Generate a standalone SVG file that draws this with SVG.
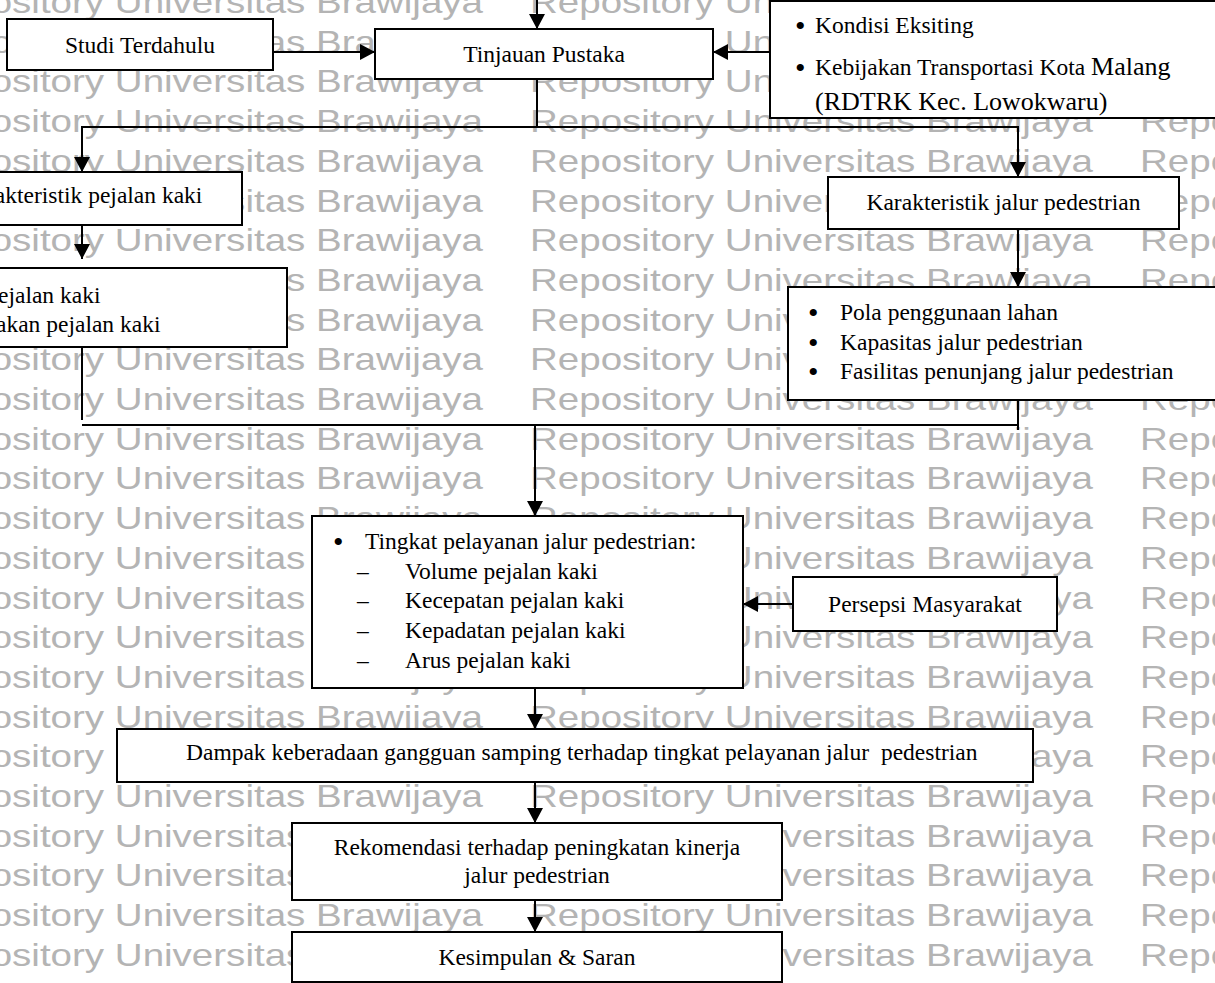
<svg xmlns="http://www.w3.org/2000/svg" xmlns:xlink="http://www.w3.org/1999/xlink" width="1215" height="983" viewBox="0 0 1215 983">
  <style>
    .wm { font-family: "Liberation Sans", Arial, sans-serif; font-size: 32px; fill: #b4b4b4; }
    .box { fill: #ffffff; stroke: #000000; stroke-width: 2; }
    .t { font-family: "Liberation Serif", "Times New Roman", serif; font-size: 23.5px; fill: #000000; }
    .c { text-anchor: middle; }
    .big { font-size: 26px; }
    .bul { font-family: "Liberation Serif", "Times New Roman", serif; font-size: 30px; fill: #000000; }
    .ln { fill: none; stroke: #000000; stroke-width: 2; }
    .arr { marker-end: url(#head); }
  </style>
  <defs>
    <marker id="head" markerUnits="userSpaceOnUse" markerWidth="16" markerHeight="16" refX="15" refY="8" orient="auto">
      <path d="M0,0 L15,8 L0,16 z" fill="#000000"/>
    </marker>
    <text id="wm" class="wm" textLength="563" lengthAdjust="spacingAndGlyphs">Repository Universitas Brawijaya</text>
    <g id="wmrow">
      <use href="#wm" xlink:href="#wm" x="-80"/>
      <use href="#wm" xlink:href="#wm" x="530"/>
      <use href="#wm" xlink:href="#wm" x="1140"/>
    </g>
  </defs>

  <rect width="1215" height="983" fill="#ffffff"/>

  <!-- background watermark rows -->
  <g id="watermark">
    <use href="#wmrow" xlink:href="#wmrow" y="13"/>
    <use href="#wmrow" xlink:href="#wmrow" y="52.7"/>
    <use href="#wmrow" xlink:href="#wmrow" y="92.4"/>
    <use href="#wmrow" xlink:href="#wmrow" y="132.1"/>
    <use href="#wmrow" xlink:href="#wmrow" y="171.8"/>
    <use href="#wmrow" xlink:href="#wmrow" y="211.5"/>
    <use href="#wmrow" xlink:href="#wmrow" y="251.2"/>
    <use href="#wmrow" xlink:href="#wmrow" y="290.9"/>
    <use href="#wmrow" xlink:href="#wmrow" y="330.6"/>
    <use href="#wmrow" xlink:href="#wmrow" y="370.3"/>
    <use href="#wmrow" xlink:href="#wmrow" y="410"/>
    <use href="#wmrow" xlink:href="#wmrow" y="449.7"/>
    <use href="#wmrow" xlink:href="#wmrow" y="489.4"/>
    <use href="#wmrow" xlink:href="#wmrow" y="529.1"/>
    <use href="#wmrow" xlink:href="#wmrow" y="568.8"/>
    <use href="#wmrow" xlink:href="#wmrow" y="608.5"/>
    <use href="#wmrow" xlink:href="#wmrow" y="648.2"/>
    <use href="#wmrow" xlink:href="#wmrow" y="687.9"/>
    <use href="#wmrow" xlink:href="#wmrow" y="727.6"/>
    <use href="#wmrow" xlink:href="#wmrow" y="767.3"/>
    <use href="#wmrow" xlink:href="#wmrow" y="807"/>
    <use href="#wmrow" xlink:href="#wmrow" y="846.7"/>
    <use href="#wmrow" xlink:href="#wmrow" y="886.4"/>
    <use href="#wmrow" xlink:href="#wmrow" y="926.1"/>
    <use href="#wmrow" xlink:href="#wmrow" y="965.8"/>
  </g>

  <!-- connectors -->
  <g id="connectors">
    <line class="ln arr" x1="537" y1="0" x2="537" y2="29"/>
    <line class="ln arr" x1="273" y1="52" x2="375" y2="52"/>
    <line class="ln arr" x1="770" y1="52" x2="713" y2="52"/>
    <line class="ln" x1="537" y1="79" x2="537" y2="127"/>
    <line class="ln" x1="81" y1="127" x2="1019" y2="127"/>
    <line class="ln arr" x1="82" y1="126" x2="82" y2="172"/>
    <line class="ln arr" x1="1018" y1="126" x2="1018" y2="177"/>
    <line class="ln arr" x1="82" y1="225" x2="82" y2="259"/>
    <line class="ln arr" x1="1018" y1="229" x2="1018" y2="287"/>
    <line class="ln" x1="82" y1="347" x2="82" y2="420"/>
    <line class="ln" x1="1018" y1="400" x2="1018" y2="430"/>
    <line class="ln" x1="82" y1="425" x2="1018" y2="425"/>
    <line class="ln arr" x1="535" y1="424" x2="535" y2="516"/>
    <line class="ln arr" x1="793" y1="604" x2="743" y2="604"/>
    <line class="ln arr" x1="535" y1="688" x2="535" y2="729"/>
    <line class="ln arr" x1="535" y1="782" x2="535" y2="823"/>
    <line class="ln arr" x1="535" y1="900" x2="535" y2="932"/>
  </g>

  <g id="studi-terdahulu">
    <rect class="box" x="7" y="19" width="266" height="51"/>
    <text class="t c" x="140" y="53">Studi Terdahulu</text>
  </g>

  <g id="tinjauan-pustaka">
    <rect class="box" x="375" y="29" width="338" height="50"/>
    <text class="t c" x="544" y="62">Tinjauan Pustaka</text>
  </g>

  <g id="kondisi">
    <rect class="box" x="770" y="1" width="460" height="117"/>
    <text class="bul" x="795" y="36">•</text>
    <text class="t" x="815" y="33">Kondisi Eksiting</text>
    <text class="bul" x="795" y="78">•</text>
    <text class="t" x="815" y="75">Kebijakan Transportasi Kota <tspan class="big">Malang</tspan></text>
    <text class="t big" x="815" y="110">(RDTRK Kec. Lowokwaru)</text>
  </g>

  <g id="karakteristik-pejalan-kaki">
    <rect class="box" x="-80" y="172" width="322" height="53"/>
    <text class="t c" x="81" y="203">Karakteristik pejalan kaki</text>
  </g>

  <g id="pejalan-kaki-list">
    <rect class="box" x="-80" y="268" width="367" height="79"/>
    <text class="t" x="-2" y="303">ejalan kaki</text>
    <text class="t" x="-4" y="332">akan pejalan kaki</text>
  </g>

  <g id="karakteristik-jalur">
    <rect class="box" x="828" y="177" width="351" height="52"/>
    <text class="t c" x="1003.5" y="210">Karakteristik jalur pedestrian</text>
  </g>

  <g id="jalur-list">
    <rect class="box" x="788" y="287" width="440" height="113"/>
    <text class="bul" x="808" y="323">•</text>
    <text class="t" x="840" y="320">Pola penggunaan lahan</text>
    <text class="bul" x="808" y="353">•</text>
    <text class="t" x="840" y="350">Kapasitas jalur pedestrian</text>
    <text class="bul" x="808" y="382">•</text>
    <text class="t" x="840" y="379">Fasilitas penunjang jalur pedestrian</text>
  </g>

  <g id="tingkat-pelayanan">
    <rect class="box" x="312" y="516" width="431" height="172"/>
    <text class="bul" x="333" y="552">•</text>
    <text class="t" x="365" y="549">Tingkat pelayanan jalur pedestrian:</text>
    <text class="t" x="357" y="579">–</text>
    <text class="t" x="405" y="579">Volume pejalan kaki</text>
    <text class="t" x="357" y="608">–</text>
    <text class="t" x="405" y="608">Kecepatan pejalan kaki</text>
    <text class="t" x="357" y="638">–</text>
    <text class="t" x="405" y="638">Kepadatan pejalan kaki</text>
    <text class="t" x="357" y="668">–</text>
    <text class="t" x="405" y="668">Arus pejalan kaki</text>
  </g>

  <g id="persepsi-masyarakat">
    <rect class="box" x="793" y="577" width="264" height="54"/>
    <text class="t c" x="925" y="612">Persepsi Masyarakat</text>
  </g>

  <g id="dampak">
    <rect class="box" x="117" y="729" width="916" height="53"/>
    <text class="t" x="186" y="760" xml:space="preserve">Dampak keberadaan gangguan samping terhadap tingkat pelayanan jalur  pedestrian</text>
  </g>

  <g id="rekomendasi">
    <rect class="box" x="292" y="823" width="490" height="77"/>
    <text class="t c" x="537" y="855">Rekomendasi terhadap peningkatan kinerja</text>
    <text class="t c" x="537" y="883">jalur pedestrian</text>
  </g>

  <g id="kesimpulan">
    <rect class="box" x="292" y="932" width="490" height="50"/>
    <text class="t c" x="537" y="965">Kesimpulan &amp; Saran</text>
  </g>
</svg>
